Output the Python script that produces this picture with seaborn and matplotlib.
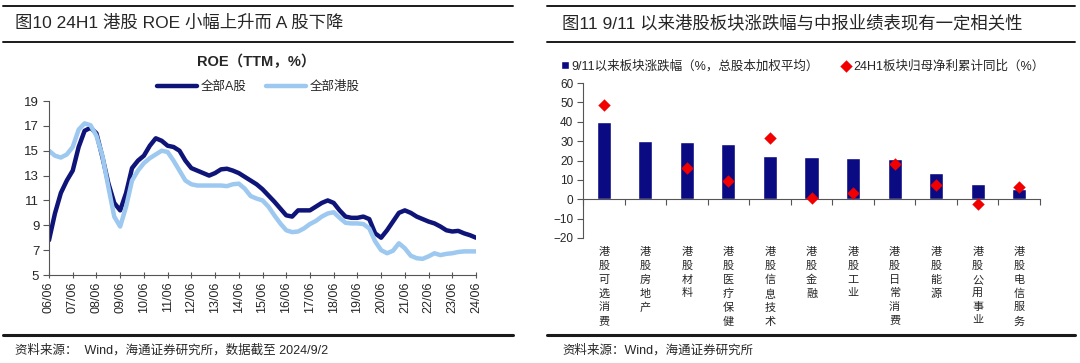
import numpy as np
import pandas as pd
import matplotlib.pyplot as plt
from matplotlib.lines import Line2D
import seaborn as sns

# ---- left chart: quarterly ROE (TTM, %), 2006Q2 - 2024Q2
year_ticks = ["06/06", "07/06", "08/06", "09/06", "10/06", "11/06", "12/06", "13/06",
              "14/06", "15/06", "16/06", "17/06", "18/06", "19/06", "20/06", "21/06",
              "22/06", "23/06", "24/06"]
roe_a = [7.8, 9.95, 11.6, 12.6, 13.4, 15.3, 16.6, 16.85, 16.4, 14.5, 12.4, 10.8,
         10.2, 11.6, 13.6, 14.2, 14.6, 15.4, 16.0, 15.8, 15.4, 15.3, 15.0, 14.2,
         13.6, 13.4, 13.2, 13.0, 13.2, 13.5, 13.55, 13.4, 13.2, 12.9, 12.6, 12.3,
         11.9, 11.4, 10.9, 10.35, 9.8, 9.7, 10.2, 10.2, 10.2, 10.5, 10.8, 11.0,
         10.8, 10.2, 9.7, 9.6, 9.6, 9.7, 9.5, 8.35, 8.0, 8.6, 9.3, 10.0,
         10.2, 10.0, 9.7, 9.5, 9.3, 9.15, 8.9, 8.6, 8.5, 8.55, 8.35, 8.2, 8.0]
roe_hk = [15.0, 14.6, 14.45, 14.7, 15.3, 16.7, 17.2, 17.05, 16.2, 14.6, 12.1, 9.7,
          8.9, 10.5, 12.6, 13.4, 14.0, 14.4, 14.7, 15.0, 14.9, 14.2, 13.4, 12.6,
          12.3, 12.2, 12.2, 12.2, 12.2, 12.2, 12.15, 12.3, 12.35, 11.95, 11.35, 11.15,
          11.0, 10.5, 9.8, 9.15, 8.6, 8.45, 8.5, 8.75, 9.1, 9.35, 9.7, 9.95,
          10.05, 9.6, 9.2, 9.15, 9.15, 9.1, 8.75, 7.7, 7.0, 6.75, 6.95, 7.55,
          7.15, 6.55, 6.35, 6.3, 6.5, 6.75, 6.6, 6.7, 6.75, 6.85, 6.9, 6.9, 6.9]
series_names = ["全部A股", "全部港股"]

# ---- right chart: HK sectors
sectors = ["港股可选消费", "港股房地产", "港股材料", "港股医疗保健", "港股信息技术", "港股金融",
           "港股工业", "港股日常消费", "港股能源", "港股公用事业", "港股电信服务"]
sector_return = [39.8, 30.2, 29.8, 28.6, 22.5, 21.6, 21.1, 20.9, 13.4, 8.1, 5.1]
profit_growth = [48.9, np.nan, 15.9, 9.4, 31.5, 0.5, 3.3, 18.3, 7.5, -2.7, 6.3]
bar_label = "9/11以来板块涨跌幅（%，总股本加权平均）"
dot_label = "24H1板块归母净利累计同比（%）"

DARK = "#0F1478"
LIGHT = "#9DC8F0"
NAVY = "#0A0A82"
RED = "#F20000"

sns.set_style("ticks")
plt.rcParams["font.family"] = ["Liberation Sans", "Noto Sans CJK SC", "DejaVu Sans"]

W, H = 1080, 363
fig = plt.figure(figsize=(W / 100, H / 100), dpi=100)


def px_axes(x0, y_top, x1, y_bot):
    return fig.add_axes([x0 / W, 1 - y_bot / H, (x1 - x0) / W, (y_bot - y_top) / H])


def rule(x0, x1, y, lw):
    fig.add_artist(Line2D([x0 / W, x1 / W], [1 - y / H, 1 - y / H],
                          transform=fig.transFigure, color="#1a1a1a", lw=lw))


# ---------------- left panel
ax1 = px_axes(49, 101, 476, 275)
quarters = np.arange(len(roe_a))
df = pd.DataFrame({
    "q": np.concatenate([quarters, quarters]),
    "roe": roe_a + roe_hk,
    "series": [series_names[0]] * len(roe_a) + [series_names[1]] * len(roe_hk),
})
sns.lineplot(data=df, x="q", y="roe", hue="series", hue_order=series_names,
             palette=[DARK, LIGHT], lw=3.2, ax=ax1)
ax1.set_xlim(quarters[0], quarters[-1])
ax1.set_ylim(5, 19)
ax1.set_yticks(range(5, 20, 2))
ax1.set_xticks(quarters[::4])
ax1.set_xticklabels(year_ticks, rotation=90, fontsize=9)
ax1.tick_params(axis="y", labelsize=9.5, length=4, color="#555555", pad=3)
ax1.tick_params(axis="x", direction="inout", length=5, color="#555555", pad=2)
ax1.set_xlabel("")
ax1.set_ylabel("")
sns.despine(ax=ax1)
for s in ["left", "bottom"]:
    ax1.spines[s].set_color("#555555")
    ax1.spines[s].set_linewidth(0.8)
ax1.legend(loc="center", bbox_to_anchor=(0.49, 1 + 14 / 174), ncol=2, frameon=False,
           fontsize=9, handlelength=3.2, columnspacing=1.6, handletextpad=0.3)

# ---------------- right panel
ax2 = px_axes(583, 83, 1040, 238)
pos = np.arange(len(sectors))
sns.barplot(x=pos, y=sector_return, color=NAVY, saturation=1, width=0.34,
            native_scale=True, label=bar_label, ax=ax2)
sns.scatterplot(x=pos, y=profit_growth, marker="D", color=RED, s=40, linewidth=0,
                label=dot_label, zorder=3, ax=ax2)
ax2.set_xlim(-0.5, len(sectors) - 0.5)
ax2.set_ylim(-20, 60)
ax2.set_yticks(range(-20, 61, 10))
ax2.set_xticks(np.arange(-0.5, len(sectors), 1))
ax2.set_xticklabels([])
ax2.tick_params(axis="y", labelsize=8.5, length=4, color="#555555", pad=3)
ax2.tick_params(axis="x", length=4, color="#555555")
sns.despine(ax=ax2)
ax2.spines["bottom"].set_position(("data", 0))
for s in ["left", "bottom"]:
    ax2.spines[s].set_color("#555555")
    ax2.spines[s].set_linewidth(0.8)
for p, name in zip(pos, sectors):
    ax2.text(p, -0.06, "\n".join(name), transform=ax2.get_xaxis_transform(),
             ha="center", va="top", fontsize=8, linespacing=1.45)
handles, labels = ax2.get_legend_handles_labels()
order = [labels.index(bar_label), labels.index(dot_label)]
ax2.legend([handles[i] for i in order], [labels[i] for i in order],
           loc="center", bbox_to_anchor=(0.48, 1 + 17 / 155), ncol=2, frameon=False,
           fontsize=9, handlelength=0.7, handleheight=0.7, columnspacing=1.8,
           handletextpad=0.2)

# ---------------- titles, rules, sources
fig.text(15 / W, 1 - 23 / H, "图10 24H1 港股 ROE 小幅上升而 A 股下降", fontsize=12.5,
         va="center")
fig.text(562 / W, 1 - 23 / H, "图11 9/11 以来港股板块涨跌幅与中报业绩表现有一定相关性",
         fontsize=12.5, va="center")
fig.text(256 / W, 1 - 62 / H, "ROE（TTM，%）", fontsize=10.5, weight="bold",
         ha="center", va="center")
fig.text(15 / W, 1 - 350 / H, "资料来源：  Wind，海通证券研究所，数据截至 2024/9/2",
         fontsize=9, va="center")
fig.text(562 / W, 1 - 350 / H, "资料来源：Wind，海通证券研究所", fontsize=9, va="center")

for x0, x1 in [(3, 513), (547, 1075)]:
    rule(x0, x1, 6, 1.4)
    rule(x0, x1, 42, 1.4)
    rule(x0, x1, 335, 2.2)

fig.savefig("out.png", dpi=100)
